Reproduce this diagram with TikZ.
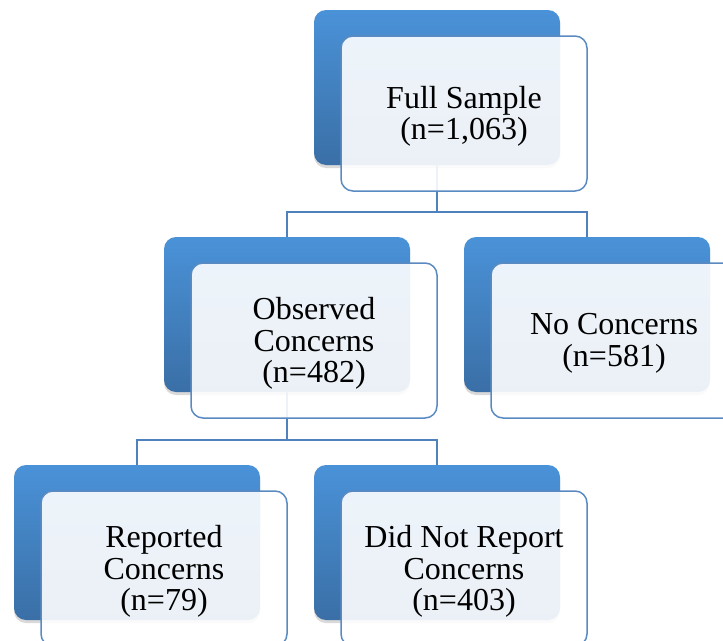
\documentclass[tikz,border=0pt]{standalone}
\usepackage{fontspec}
\setmainfont{Liberation Serif}
\usetikzlibrary{shadows}
\definecolor{backtop}{HTML}{4A92D8}
\definecolor{backbot}{HTML}{3A6FA6}
\definecolor{frontline}{HTML}{5A8AC2}
\definecolor{conn}{HTML}{4F81BD}
\begin{document}
\begin{tikzpicture}[x=1pt,y=-1pt,
 backbox/.style={rectangle, rounded corners=12pt, minimum width=246pt, minimum height=155pt, inner sep=0pt, outer sep=0pt, top color=backtop, bottom color=backbot, draw=none, drop shadow={shadow xshift=0pt, shadow yshift=-3pt, opacity=0.3}},
 frontbox/.style={rectangle, rounded corners=12pt, minimum width=246pt, minimum height=155pt, inner sep=0pt, outer sep=0pt, draw=frontline, line width=1.5pt, fill=white, fill opacity=0.9},
 boxtext/.style={align=center, inner sep=0pt, font=\fontsize{32}{31.5}\selectfont},
 link/.style={draw=conn, line width=1.5pt}]
\useasboundingbox (0,0) rectangle (723,640);
\clip (0,0) rectangle (723,640);
% back boxes
\node[backbox] (b1) at (437,87.5) {};
\node[backbox] (b2) at (287,314.5) {};
\node[backbox] (b3) at (587,314.5) {};
\node[backbox] (b4) at (137,542.5) {};
\node[backbox] (b5) at (437,542.5) {};
% connectors
\draw[link] (b1.south) -- ++(0,47) coordinate (j1);
\draw[link] (j1) -| (b2.north);
\draw[link] (j1) -| (b3.north);
\draw[link] (b2.south) -- ++(0,48) coordinate (j2);
\draw[link] (j2) -| (b4.north);
\draw[link] (j2) -| (b5.north);
% front boxes
\node[frontbox] (f1) at (464,113.5) {};
\node[frontbox] (f2) at (314,340.5) {};
\node[frontbox] (f3) at (614,340.5) {};
\node[frontbox] (f4) at (164,568.5) {};
\node[frontbox] (f5) at (464,568.5) {};
% texts
\node[boxtext] (t1) at ([yshift=-3pt]f1.center) {Full Sample\\(n=1,063)};
\node[boxtext] (t2) at ([yshift=-3pt]f2.center) {Observed\\Concerns\\(n=482)};
\node[boxtext] (t3) at ([yshift=-3pt]f3.center) {No Concerns\\(n=581)};
\node[boxtext] (t4) at ([yshift=-3pt]f4.center) {Reported\\Concerns\\(n=79)};
\node[boxtext] (t5) at ([yshift=-3pt]f5.center) {Did Not Report\\Concerns\\(n=403)};
\end{tikzpicture}
\end{document}
